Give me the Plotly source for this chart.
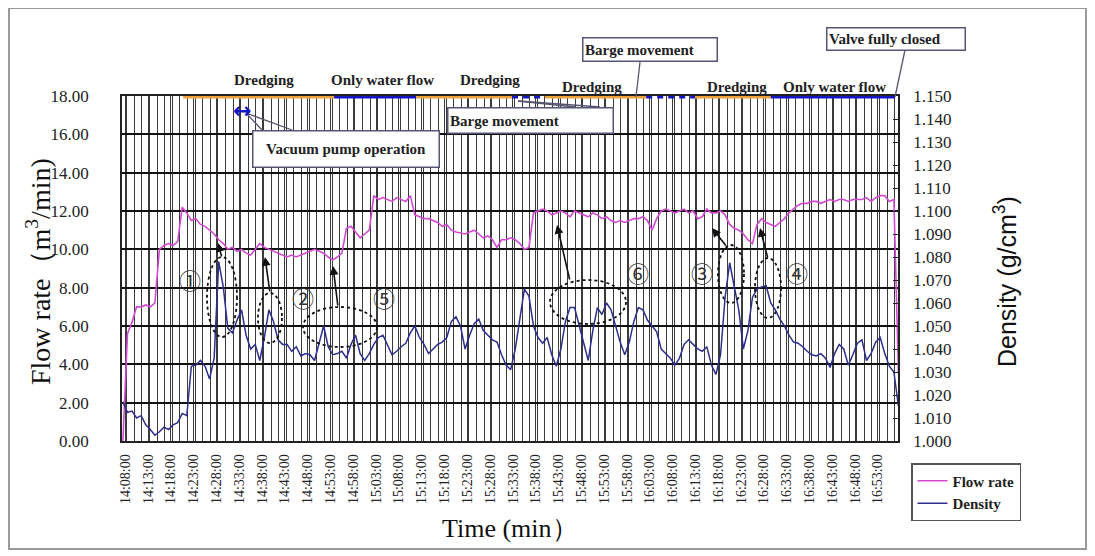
import plotly.graph_objects as go
import pandas as pd

# ---------------- data ----------------
start_time = "2020-01-01 14:07:30"   # first sample, 1-minute sampling

flow_rate = [
    0.0, 5.6, 6.2, 7.0, 7.0, 7.1, 7.0, 7.2, 10.0, 10.2,
    10.3, 10.2, 10.4, 12.2, 11.9, 11.5, 11.6, 11.3, 11.2, 11.0,
    10.8, 10.5, 10.3, 10.0, 10.1, 9.9, 10.0, 9.8, 9.7, 10.0,
    10.3, 10.1, 10.0, 9.9, 9.8, 9.7, 9.6, 9.7, 9.6, 9.7,
    9.8, 9.9, 10.0, 9.9, 9.8, 9.6, 9.45, 9.6, 9.8, 11.1,
    11.2, 10.9, 10.6, 10.8, 11.0, 12.8, 12.6, 12.7, 12.6, 12.5,
    12.7, 12.6, 12.5, 12.8, 11.8, 11.7, 11.6, 11.6, 11.5, 11.4,
    11.2, 11.3, 11.0, 10.9, 10.85, 10.8, 10.9, 11.0, 10.8, 10.6,
    10.7, 10.5, 10.1, 10.5, 10.5, 10.6, 10.5, 10.3, 10.0, 10.1,
    11.9, 12.0, 12.1, 12.0, 11.8, 11.9, 12.0, 11.9, 11.7, 12.0,
    11.9, 11.8, 11.7, 11.9, 11.8, 11.6, 11.7, 11.5, 11.4, 11.5,
    11.4, 11.5, 11.6, 11.6, 11.7, 11.5, 11.0, 11.6, 12.0, 12.1,
    12.0, 11.9, 12.0, 12.1, 11.9, 12.0, 11.6, 11.7, 12.1, 11.9,
    11.9, 12.0, 11.8, 11.3, 11.1, 11.0, 10.8, 10.5, 10.3, 11.3,
    11.6, 11.4, 11.3, 11.2, 11.4, 11.6, 11.9, 12.1, 12.3, 12.4,
    12.4, 12.5, 12.5, 12.4, 12.5, 12.6, 12.5, 12.6, 12.6, 12.5,
    12.6, 12.6, 12.6, 12.7, 12.5, 12.7, 12.8, 12.8, 12.5, 12.6,
    3.5,
]

density = [
    1.017, 1.0125, 1.013, 1.010, 1.011, 1.007, 1.005, 1.0025, 1.004, 1.006,
    1.005, 1.007, 1.008, 1.012, 1.011, 1.0325, 1.033, 1.035, 1.0325, 1.027,
    1.036, 1.078, 1.067, 1.049, 1.047, 1.0525, 1.057, 1.046, 1.040, 1.042,
    1.035, 1.045, 1.057, 1.052, 1.044, 1.042, 1.042, 1.039, 1.041, 1.037,
    1.038, 1.0375, 1.035, 1.042, 1.050, 1.041, 1.0375, 1.038, 1.039, 1.036,
    1.042, 1.046, 1.038, 1.035, 1.038, 1.042, 1.045, 1.046, 1.042, 1.0375,
    1.039, 1.041, 1.0425, 1.047, 1.050, 1.045, 1.042, 1.038, 1.040, 1.042,
    1.043, 1.045, 1.052, 1.054, 1.050, 1.040, 1.046, 1.051, 1.053, 1.048,
    1.046, 1.044, 1.043, 1.0375, 1.033, 1.031, 1.040, 1.054, 1.066, 1.063,
    1.050, 1.045, 1.0425, 1.045, 1.0375, 1.0325, 1.040, 1.052, 1.058, 1.058,
    1.050, 1.042, 1.035, 1.048, 1.058, 1.055, 1.060, 1.057, 1.050, 1.043,
    1.0375, 1.043, 1.052, 1.058, 1.057, 1.0525, 1.050, 1.0475, 1.040, 1.038,
    1.036, 1.033, 1.036, 1.042, 1.044, 1.042, 1.040, 1.039, 1.041, 1.033,
    1.029, 1.0375, 1.0625, 1.0775, 1.067, 1.057, 1.040, 1.048, 1.0625, 1.066,
    1.067, 1.0675, 1.060, 1.057, 1.053, 1.050, 1.046, 1.043, 1.0425, 1.041,
    1.039, 1.0375, 1.037, 1.038, 1.036, 1.032, 1.038, 1.042, 1.040, 1.033,
    1.0375, 1.0425, 1.044, 1.035, 1.038, 1.043, 1.045, 1.038, 1.0325, 1.030,
    1.015,
]

# operation status bar along the top (start, end, kind)
status_start = ["14:20:42", "14:53:48", "15:11:48", "15:32:48", "15:40:00",
                "16:02:12", "16:12:54", "16:29:30"]
status_end = ["14:53:48", "15:11:48", "15:32:48", "15:40:00", "16:02:12",
              "16:12:54", "16:29:30", "16:56:42"]
status_kind = ["dredge", "water", "dredge", "barge", "dredge", "barge",
               "dredge", "water"]

x_range = ["2020-01-01 14:07:18", "2020-01-01 16:57:24"]
x_tick0 = "2020-01-01 14:08:00"

times = pd.date_range(start_time, periods=len(flow_rate), freq="1min")

# ---------------- layout geometry ----------------
OFF = 8                      # page body margin
W, H = 1095 - OFF, 556 - OFF
PL, PR, PT, PB = 122, 898, 96, 441   # plot area in page pixels


def px(x):
    return (x - PL) / (PR - PL)


def py(y):
    return (PB - y) / (PB - PT)


fig = go.Figure()
fig.add_trace(go.Scatter(x=times, y=flow_rate, name="<b>Flow rate</b>", mode="lines",
                         line=dict(color="#D24AD2", width=1.6)))
fig.add_trace(go.Scatter(x=times, y=density, name="<b>Density</b>", mode="lines",
                         yaxis="y2", line=dict(color="#2E2E8E", width=1.5)))

serif = "Liberation Serif"

shapes = []
# status bars
colors = {"dredge": "#EBA23A", "water": "#1515C8", "barge": "#1515C8"}
for s, e, k in zip(status_start, status_end, status_kind):
    shapes.append(dict(type="line", xref="x", yref="y",
                       x0="2020-01-01 " + s, x1="2020-01-01 " + e, y0=18.0, y1=18.0,
                       line=dict(color=colors[k], width=5,
                                 dash="6px,5px" if k == "barge" else "solid")))

# ellipses (cx, cy, rx, ry)
ellipses = [(222, 297, 15, 40), (270, 318, 12, 25), (340, 327, 37, 20),
            (588, 302, 38, 22), (731, 274, 13, 29), (768, 288, 13, 30)]
for cx, cy, rx, ry in ellipses:
    shapes.append(dict(type="circle", xref="paper", yref="paper",
                       x0=px(cx - rx), x1=px(cx + rx), y0=py(cy + ry), y1=py(cy - ry),
                       line=dict(color="#111", width=1.8, dash="dot")))

# callout lines
callouts = [((640, 62), (636, 97)), ((905, 50), (895, 97)),
            ((518, 101), (575, 107)), ((518, 101), (600, 107)),
            ((246, 113), (262, 130)), ((246, 113), (292, 130))]
for (x0, y0), (x1, y1) in callouts:
    shapes.append(dict(type="line", xref="paper", yref="paper",
                       x0=px(x0), y0=py(y0), x1=px(x1), y1=py(y1),
                       line=dict(color="#555570", width=1.3)))

# outer frame
shapes.append(dict(type="rect", xref="paper", yref="paper",
                   x0=px(9), x1=px(1086), y0=py(549), y1=py(8),
                   line=dict(color="#9a9a9a", width=2)))

ann = []
status_labels = [("Dredging", 264, 80), ("Only water flow", 382, 80),
                 ("Dredging", 490, 80), ("Dredging", 592, 87),
                 ("Dredging", 737, 87), ("Only water flow", 834, 87)]
for t, x, y in status_labels:
    ann.append(dict(text="<b>%s</b>" % t, x=px(x), y=py(y), xref="paper", yref="paper",
                    xanchor="center", yanchor="middle", showarrow=False,
                    font=dict(family=serif, size=15, color="#222")))

boxes = [("Barge movement", 582, 37, 136, 25),
         ("Valve fully closed", 826, 27, 140, 24),
         ("Barge movement", 447, 107, 167, 27),
         ("Vacuum pump operation", 252, 130, 188, 38)]
for t, x, y, w, h in boxes:
    ann.append(dict(text="<b>%s</b>" % t, x=px(x), y=py(y), xref="paper", yref="paper",
                    xanchor="left", yanchor="top", showarrow=False,
                    width=w - 6, height=h - 6, align="left" if w < 180 else "center",
                    valign="middle", bgcolor="white", bordercolor="#555577",
                    borderwidth=1.5, borderpad=1.5,
                    font=dict(family=serif, size=15, color="#222")))

# circled numbers
nums = [("①", 190, 279), ("②", 303, 297), ("⑤", 384, 297),
        ("⑥", 638, 272), ("③", 702, 272), ("④", 797, 272)]
for t, x, y in nums:
    ann.append(dict(text=t, x=px(x), y=py(y), xref="paper", yref="paper",
                    xanchor="center", yanchor="middle", showarrow=False,
                    font=dict(family="Noto Sans CJK JP", size=22, color="#333")))

# arrows: head (x, y), tail (x, y)
arrows = [((218, 243), (222, 258)), ((265, 257), (270, 293)),
          ((333, 266), (338, 307)), ((557, 225), (570, 281)),
          ((712, 228), (727, 247)), ((760, 228), (768, 259))]
for (hx, hy), (tx, ty) in arrows:
    ann.append(dict(text="", x=px(hx), y=py(hy), xref="paper", yref="paper",
                    showarrow=True, ax=tx - hx, ay=ty - hy, arrowhead=2,
                    arrowsize=1.1, arrowwidth=1.6, arrowcolor="#111"))

# vacuum pump double arrow
ann.append(dict(text="<b>↔</b>", x=px(242), y=py(110), xref="paper", yref="paper",
                xanchor="center", yanchor="middle", showarrow=False,
                font=dict(family="DejaVu Sans", size=22, color="#1515C8")))

# axis titles
ann.append(dict(text="Flow rate（m<sup>3</sup>/min)", x=px(38), y=py(272),
                xref="paper", yref="paper", xanchor="center", yanchor="middle",
                showarrow=False, textangle=-90,
                font=dict(family=serif, size=28, color="#111")))
ann.append(dict(text="Density (g/cm<sup>3</sup>)", x=px(1005), y=py(282),
                xref="paper", yref="paper", xanchor="center", yanchor="middle",
                showarrow=False, textangle=-90,
                font=dict(family="Liberation Sans", size=25, color="#111")))
ann.append(dict(text="Time (min）", x=px(510), y=py(528),
                xref="paper", yref="paper", xanchor="center", yanchor="middle",
                showarrow=False,
                font=dict(family=serif, size=26, color="#111")))

fig.update_layout(
    width=W, height=H,
    margin=dict(l=PL - OFF, r=W - (PR - OFF), t=PT - OFF, b=H - (PB - OFF), autoexpand=False),
    paper_bgcolor="white", plot_bgcolor="white",
    shapes=shapes, annotations=ann,
    legend=dict(x=px(911), y=py(463), xanchor="left", yanchor="top",
                bordercolor="#555", borderwidth=1.5, bgcolor="white",
                font=dict(family=serif, size=15, color="#222"),
                tracegroupgap=4, itemwidth=30),
    xaxis=dict(type="date", range=x_range, tick0=x_tick0, dtick=300000,
               tickformat="%H:%M:%S", tickangle=-90, ticks="",
               tickfont=dict(family=serif, size=14, color="#222"),
               showgrid=True, gridcolor="#3a3a3a", gridwidth=1.3,
               minor=dict(dtick=100000, showgrid=True, gridcolor="#3a3a3a", gridwidth=1.3),
               showline=True, linecolor="#222", linewidth=1.5, mirror=True,
               ticklabelstandoff=6, zeroline=False),
    yaxis=dict(range=[0, 18], dtick=2, tickformat=".2f",
               tickfont=dict(family=serif, size=17, color="#222"),
               showgrid=True, gridcolor="#111", gridwidth=1.6,
               showline=True, linecolor="#222", linewidth=1.5, mirror=True,
               ticks="", ticklabelstandoff=28, zeroline=False),
    yaxis2=dict(range=[1.0, 1.15], dtick=0.01, tickformat=".3f",
                overlaying="y", side="right", showgrid=False,
                tickfont=dict(family=serif, size=17, color="#222"),
                ticks="inside", ticklen=5, tickcolor="#222",
                showline=True, linecolor="#222", linewidth=1.5,
                ticklabelstandoff=10, zeroline=False),
)

fig.write_html("out.html")
